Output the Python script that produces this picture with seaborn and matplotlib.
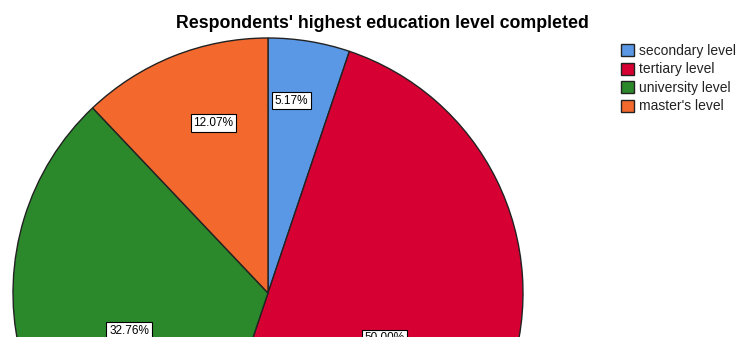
import numpy as np
import matplotlib
matplotlib.use("Agg")
import matplotlib.pyplot as plt
import seaborn as sns

# Survey results: share of respondents by highest completed education level
levels = ["secondary level", "tertiary level", "university level", "master's level"]
shares = [5.17, 50.00, 32.76, 12.07]
colors = ["#5A98E6", "#D70033", "#2B882B", "#F3692D"]
# where each percentage label sits inside its slice:
# fraction along the slice's arc, and fraction of the radius
label_arc = [0.37, 0.515, 0.476, 0.59]
label_rad = [0.76, 0.49, 0.565, 0.70]

sns.set_theme(style="white")
plt.rcParams["font.family"] = ["Liberation Sans", "DejaVu Sans"]

W, H = 738, 337
cx, cy, R = 268, 293, 255
fig = plt.figure(figsize=(W / 100, H / 100), dpi=100)
ax = fig.add_axes([0, 0, 1, 1])

wedges, _ = ax.pie(
    shares, colors=colors, startangle=90, counterclock=False, radius=1.0,
    center=(0, 0), frame=True,
    wedgeprops=dict(edgecolor="#222222", linewidth=1.0),
)
ax.set_xlim(-cx / R, (W - cx) / R)
ax.set_ylim((cy - H) / R, cy / R)
ax.set_aspect("auto")
ax.axis("off")

for w, v, a, d in zip(wedges, shares, label_arc, label_rad):
    # pie runs clockwise, so theta2 is where the slice begins
    ang = np.deg2rad(w.theta2 - a * (w.theta2 - w.theta1))
    ax.text(d * np.cos(ang), d * np.sin(ang), f"{v:.2f}%", ha="center", va="center",
            fontsize=8.5, color="black",
            bbox=dict(boxstyle="square,pad=0.22", facecolor="white",
                      edgecolor="black", linewidth=0.8))

fig.text(382 / W, 1 - 23 / H, "Respondents' highest education level completed",
         ha="center", va="center", fontsize=12.8, fontweight="bold", color="black")

leg = fig.legend(wedges, levels, loc="upper left", bbox_to_anchor=(621 / W, 1 - 44 / H),
                 frameon=False, fontsize=10, handlelength=0.95, handleheight=0.95,
                 handletextpad=0.35, labelspacing=0.32, borderaxespad=0, borderpad=0)
for t in leg.get_texts():
    t.set_color("#222222")

fig.savefig("out.png", dpi=100)
